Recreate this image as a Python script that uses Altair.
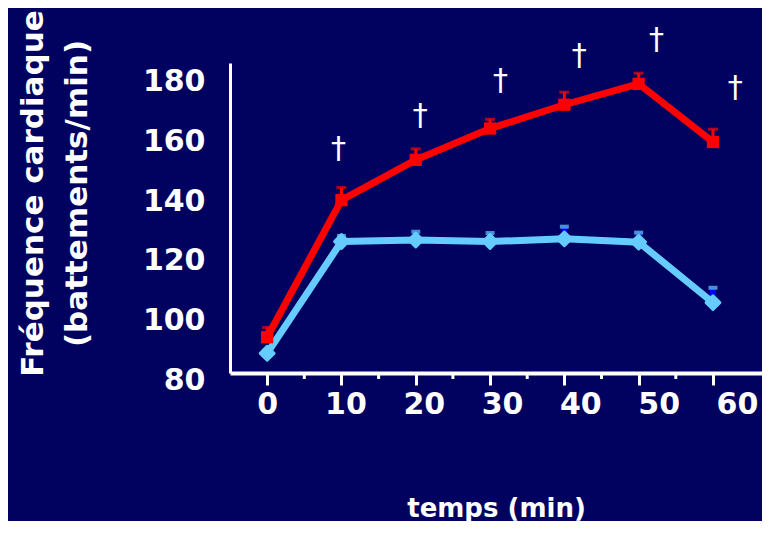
import altair as alt
import pandas as pd

# ---- data ----
time = [0, 10, 20, 30, 40, 50, 60]
red_mean = [92.0, 138.0, 151.5, 162.0, 170.0, 177.0, 157.5]
red_err = [3.3, 4.2, 3.7, 3.1, 4.2, 3.6, 4.3]
blue_mean = [86.6, 124.1, 124.6, 124.1, 125.0, 123.9, 103.6]
blue_err = [1.0, 1.9, 2.8, 2.9, 4.1, 3.2, 5.0]
dagger_time = [9.6, 20.6, 31.4, 42.0, 52.4, 63.0]
dagger_value = [155.2, 166.2, 178.0, 186.4, 191.7, 175.6]
x_ticks = [0, 10, 20, 30, 40, 50, 60]
minor_ticks = [5, 15, 25, 35, 45, 55]
y_ticks = [80, 100, 120, 140, 160, 180]

red = pd.DataFrame({"time": time, "value": red_mean,
                    "upper": [m + e for m, e in zip(red_mean, red_err)]})
blue = pd.DataFrame({"time": time, "value": blue_mean,
                     "upper": [m + e for m, e in zip(blue_mean, blue_err)]})
daggers = pd.DataFrame({"time": dagger_time, "value": dagger_value, "label": ["†"] * len(dagger_time)})
minor = pd.DataFrame({"time": minor_ticks})

FONT = "DejaVu Sans"
RED = "#ff0000"
LIGHT = "#66ccff"
DARKBLUE = "#0000ff"

xscale = alt.Scale(domain=[-5, 66.6], nice=False, zero=False)
yscale = alt.Scale(domain=[80, 184], nice=False, zero=False)

x_axis = alt.Axis(
    values=x_ticks, grid=False, labelFont=FONT, labelFontSize=30, labelFontWeight="bold",
    labelColor="white", labelPadding=4, labelFlush=False,
    labelOffset=alt.ExprRef(expr="datum.value * 0.4"),
    tickColor="white", tickSize=12, tickWidth=3,
    domainColor="white", domainWidth=4,
    title="temps (min)", titleFont=FONT, titleFontSize=26, titleFontWeight="bold",
    titleColor="white", titleY=143, titleBaseline="alphabetic",
)
y_axis = alt.Axis(
    values=y_ticks, grid=False, ticks=False, labelFont=FONT, labelFontSize=30,
    labelFontWeight="bold", labelColor="white", labelPadding=25, labelOffset=7,
    domainColor="white", domainWidth=3,
    title=["Fréquence cardiaque", "(battements/min)"], titleFont=FONT, titleFontSize=31,
    titleFontWeight="bold", titleColor="white", titleLineHeight=44,
    titleX=-212, titleY=130, titleAngle=270, titleAlign="center", titleBaseline="top",
)

X = alt.X("time:Q", scale=xscale, axis=x_axis)
Y = alt.Y("value:Q", scale=yscale, axis=y_axis)
YU = alt.Y("upper:Q", scale=yscale, axis=y_axis)

blue_line = alt.Chart(blue).mark_line(color=LIGHT, strokeWidth=7).encode(x=X, y=Y)
blue_bar = alt.Chart(blue).mark_rule(color=DARKBLUE, strokeWidth=6).encode(x=X, y=Y, y2="upper:Q")
blue_cap = alt.Chart(blue).mark_tick(color=LIGHT, orient="horizontal", size=9, thickness=4).encode(x=X, y=YU)
blue_pts = alt.Chart(blue).mark_point(shape="diamond", filled=True, color=LIGHT, size=190, opacity=1,
                                      stroke=LIGHT, strokeWidth=3, strokeJoin="round").encode(x=X, y=Y)

red_bar = alt.Chart(red).mark_rule(color=RED, strokeWidth=3).encode(x=X, y=Y, y2="upper:Q")
red_cap = alt.Chart(red).mark_tick(color=RED, orient="horizontal", size=10, thickness=3).encode(x=X, y=YU)
red_line = alt.Chart(red).mark_line(color=RED, strokeWidth=7).encode(x=X, y=Y)
red_pts = alt.Chart(red).mark_point(shape="square", filled=True, color=RED, size=150, opacity=1).encode(x=X, y=Y)

minor_rule = alt.Chart(minor).mark_rule(color="white", strokeWidth=3).encode(
    x=X, y=alt.value(310), y2=alt.value(316))

dag = alt.Chart(daggers).mark_text(font=FONT, fontSize=30, color="white", baseline="middle").encode(
    x=X, y=Y, text="label:N")

chart = alt.layer(
    blue_bar, blue_line, blue_cap, blue_pts,
    red_bar, red_cap, red_line, red_pts,
    minor_rule, dag,
).properties(
    width=532, height=310,
    padding={"left": 222, "top": 55, "right": 0, "bottom": 148},
    autosize=alt.AutoSizeParams(type="none"),
    background="#01015f",
).configure_view(stroke=None)

chart.save("out.html", embed_options={"renderer": "svg", "actions": False})
